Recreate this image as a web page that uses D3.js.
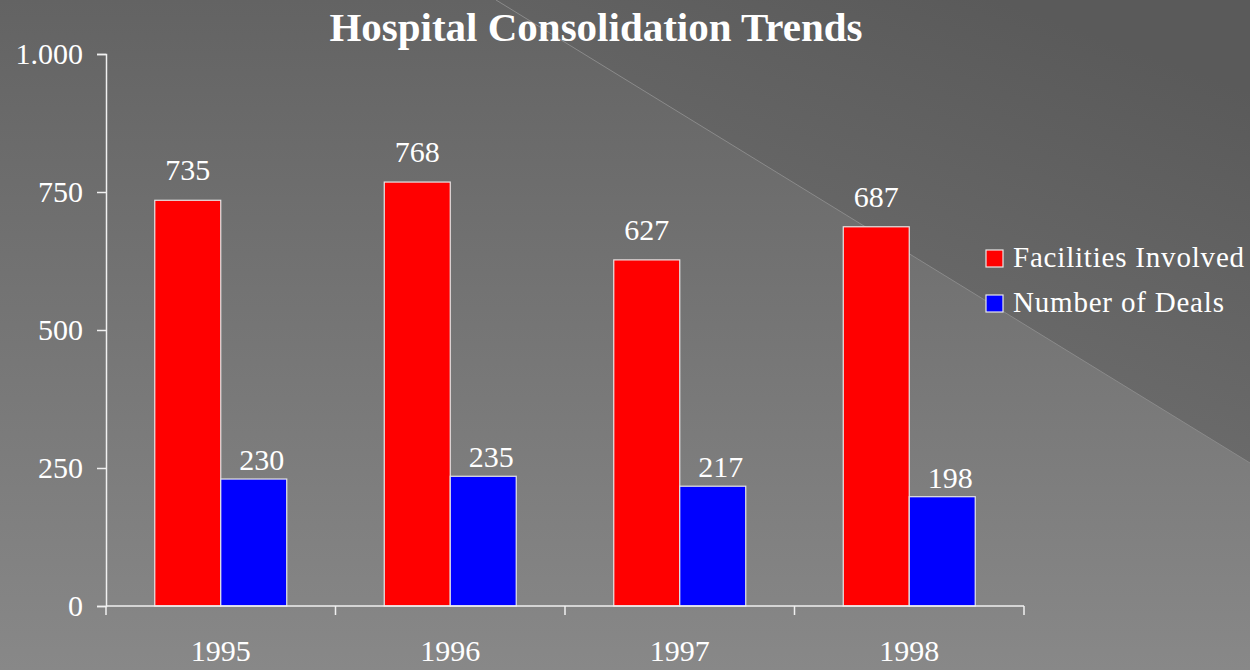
<!DOCTYPE html>
<html>
<head>
<meta charset="utf-8">
<script src="https://cdn.jsdelivr.net/npm/d3@7"></script>
<style>
  html, body { margin: 0; padding: 0; background: #666; }
  svg { display: block; }
  text { font-family: "Liberation Serif", "Times New Roman", serif; fill: #ffffff; }
</style>
</head>
<body>
<svg id="chart" width="1250" height="670"></svg>
<script>
// ---- data ----
const title = "Hospital Consolidation Trends";
const years = ["1995", "1996", "1997", "1998"];
const seriesNames = ["Facilities Involved", "Number of Deals"];
const facilitiesInvolved = [735, 768, 627, 687];
const numberOfDeals = [230, 235, 217, 198];
const yTickValues = [0, 250, 500, 750, 1000];
const yTickLabels = ["0", "250", "500", "750", "1.000"];
const seriesColors = ["#ff0000", "#0000ff"];

const seriesValues = [facilitiesInvolved, numberOfDeals];
const rows = years.map((yr, i) => ({
  year: yr,
  values: seriesNames.map((s, k) => ({ series: s, k: k, value: seriesValues[k][i] }))
}));

const W = 1250, H = 670;
const svg = d3.select("#chart");
const defs = svg.append("defs");

// ---- background ----
const gLight = defs.append("linearGradient").attr("id", "bgLight")
  .attr("x1", 0).attr("y1", 0).attr("x2", 0).attr("y2", 1);
gLight.append("stop").attr("offset", "0%").attr("stop-color", "#636363");
gLight.append("stop").attr("offset", "100%").attr("stop-color", "#888888");
const gDark = defs.append("linearGradient").attr("id", "bgDark")
  .attr("gradientUnits", "userSpaceOnUse")
  .attr("x1", 1000).attr("y1", 0).attr("x2", 880).attr("y2", 330);
gDark.append("stop").attr("offset", "0%").attr("stop-color", "#5a5a5a");
gDark.append("stop").attr("offset", "100%").attr("stop-color", "#6a6a6a");

svg.append("rect").attr("width", W).attr("height", H).attr("fill", "url(#bgLight)");
svg.append("path")
  .attr("d", `M496,0 L${W},0 L${W},463 Z`)
  .attr("fill", "url(#bgDark)");
svg.append("line")
  .attr("x1", 496).attr("y1", 0).attr("x2", W).attr("y2", 463)
  .attr("stroke", "#8a8a8a").attr("stroke-width", 1);

// ---- scales ----
const plotLeft = 106, plotRight = 1024, plotTop = 54, plotBottom = 606;
const x0 = d3.scaleBand().domain(years).range([plotLeft, plotRight]).paddingInner(0).paddingOuter(0);
const x1 = d3.scaleBand().domain(seriesNames).range([0, x0.bandwidth()])
  .paddingInner(0).paddingOuter(0.739);
const y = d3.scaleLinear().domain([0, 1000]).range([plotBottom, plotTop]);

// ---- title ----
svg.append("text")
  .attr("x", 596).attr("y", 41)
  .attr("text-anchor", "middle")
  .style("font-size", "41px").style("font-weight", "bold")
  .text(title);

// ---- y axis ----
const yAxis = svg.append("g")
  .attr("transform", `translate(${plotLeft},0)`)
  .call(d3.axisLeft(y).tickValues(yTickValues)
    .tickFormat((d, i) => yTickLabels[i]).tickSize(9).tickPadding(14));
yAxis.select(".domain").attr("stroke", "#f0f0f0").attr("stroke-width", 1.5);
yAxis.selectAll(".tick line").attr("stroke", "#f0f0f0").attr("stroke-width", 1.5);
yAxis.selectAll(".tick text")
  .style("font-size", "30px").style("font-family", "Liberation Serif, serif")
  .attr("fill", "#fff").attr("dy", "0.33em");

// ---- bars ----
const groups = svg.append("g").selectAll("g.year").data(rows).join("g")
  .attr("class", "year")
  .attr("transform", d => `translate(${x0(d.year)},0)`);

groups.selectAll("rect").data(d => d.values).join("rect")
  .attr("x", d => x1(d.series))
  .attr("y", d => y(d.value))
  .attr("width", x1.bandwidth())
  .attr("height", d => y(0) - y(d.value))
  .attr("fill", d => seriesColors[d.k])
  .attr("stroke", "#e6e6e6").attr("stroke-width", 1.2);

groups.selectAll("text.val").data(d => d.values).join("text")
  .attr("class", "val")
  .attr("x", d => x1(d.series) + x1.bandwidth() / 2 + (d.k === 1 ? 8 : 0))
  .attr("y", d => y(d.value) - (d.k === 0 ? 20 : 9))
  .attr("text-anchor", "middle")
  .style("font-size", "30px")
  .text(d => d.value);

// ---- x axis ----
const xAxis = svg.append("g");
xAxis.append("line")
  .attr("x1", plotLeft).attr("x2", plotRight)
  .attr("y1", plotBottom).attr("y2", plotBottom)
  .attr("stroke", "#f0f0f0").attr("stroke-width", 1.5);
const boundaries = years.map(yr => x0(yr)).concat([x0.range()[1]]);
xAxis.selectAll("line.tk").data(boundaries).join("line")
  .attr("class", "tk")
  .attr("x1", d => d).attr("x2", d => d)
  .attr("y1", plotBottom).attr("y2", plotBottom + 9)
  .attr("stroke", "#f0f0f0").attr("stroke-width", 1.5);
xAxis.selectAll("text").data(years).join("text")
  .attr("x", d => x0(d) + x0.bandwidth() / 2)
  .attr("y", 661)
  .attr("text-anchor", "middle")
  .style("font-size", "30px")
  .text(d => d);

// ---- legend ----
const legend = svg.append("g").attr("transform", "translate(986,250)");
const li = legend.selectAll("g").data(seriesNames).join("g")
  .attr("transform", (d, i) => `translate(0,${i * 45})`);
li.append("rect").attr("width", 17).attr("height", 17)
  .attr("fill", (d, i) => seriesColors[i])
  .attr("stroke", "#e6e6e6").attr("stroke-width", 1.2);
li.append("text").attr("x", 27).attr("y", 17)
  .style("font-size", "29px").style("letter-spacing", "0.8px")
  .text(d => d);
</script>
</body>
</html>
